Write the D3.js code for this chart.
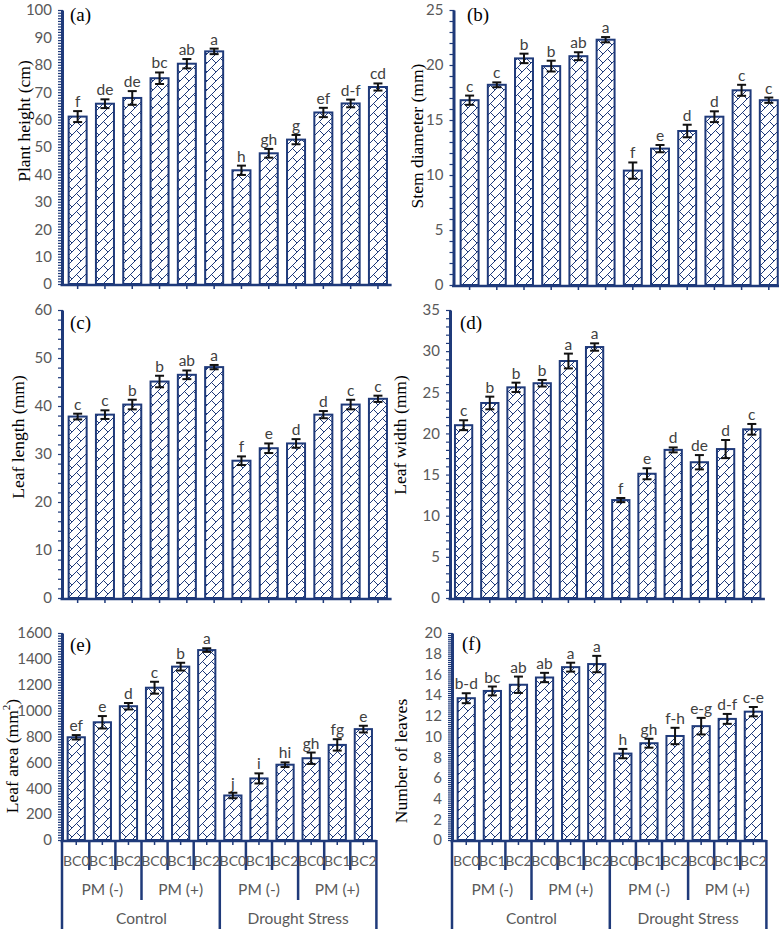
<!DOCTYPE html>
<html lang="en">
<head>
<meta charset="UTF-8">
<title>Growth traits</title>
<script src="https://d3js.org/d3.v7.min.js"></script>
<style>
  body { margin: 0; background: #fff; }
  svg { display: block; }
</style>
</head>
<body>
<svg id="chart" width="779" height="929"></svg>
<script>
// ---- data ----
const categories = ["BC0", "BC1", "BC2", "BC0", "BC1", "BC2", "BC0", "BC1", "BC2", "BC0", "BC1", "BC2"];
const pmGroups = ["PM (-)", "PM (+)", "PM (-)", "PM (+)"];
const mainGroups = ["Control", "Drought Stress"];

const plantHeight = [61.1, 65.8, 67.9, 75.1, 80.4, 84.9, 41.5, 47.7, 52.7, 62.6, 65.9, 71.9];
const plantHeightErr = [2.0, 1.6, 2.5, 2.1, 1.7, 1.0, 1.7, 1.6, 1.7, 1.7, 1.4, 1.3];
const plantHeightLetters = ["f", "de", "de", "bc", "ab", "a", "h", "gh", "g", "ef", "d-f", "cd"];

const stemDiameter = [16.8, 18.2, 20.6, 19.9, 20.8, 22.3, 10.4, 12.4, 14.0, 15.3, 17.7, 16.8];
const stemDiameterErr = [0.42, 0.22, 0.43, 0.49, 0.36, 0.24, 0.74, 0.33, 0.57, 0.49, 0.5, 0.24];
const stemDiameterLetters = ["c", "c", "b", "b", "ab", "a", "f", "e", "d", "d", "c", "c"];

const leafLength = [37.8, 38.2, 40.3, 45.1, 46.5, 48.1, 28.6, 31.2, 32.2, 38.2, 40.3, 41.5];
const leafLengthErr = [0.6, 0.9, 1.0, 1.2, 0.9, 0.45, 0.9, 1.0, 0.9, 0.75, 1.0, 0.65];
const leafLengthLetters = ["c", "c", "b", "b", "ab", "a", "f", "e", "d", "d", "c", "c"];

const leafWidth = [21.0, 23.7, 25.6, 26.1, 28.8, 30.5, 11.9, 15.1, 18.0, 16.5, 18.1, 20.5];
const leafWidthErr = [0.6, 0.77, 0.57, 0.4, 0.9, 0.45, 0.25, 0.67, 0.3, 0.87, 1.1, 0.65];
const leafWidthLetters = ["c", "b", "b", "b", "a", "a", "f", "e", "d", "de", "d", "c"];

const leafArea = [794, 910, 1034, 1177, 1340, 1468, 344, 476, 582, 632, 735, 857];
const leafAreaErr = [17, 48, 25, 46, 30, 14, 21, 39, 18, 44, 44, 26];
const leafAreaLetters = ["ef", "e", "d", "c", "b", "a", "j", "i", "hi", "gh", "fg", "e"];

const leafNumber = [13.7, 14.4, 15.0, 15.7, 16.7, 17.0, 8.35, 9.35, 10.05, 11.0, 11.7, 12.4];
const leafNumberErr = [0.48, 0.43, 0.79, 0.45, 0.43, 0.79, 0.45, 0.43, 0.79, 0.8, 0.48, 0.45];
const leafNumberLetters = ["b-d", "bc", "ab", "ab", "a", "a", "h", "gh", "f-h", "e-g", "d-f", "c-e"];

// ---- layout ----
const navy = "#1f3a7a";
const tickGray = "#595959";
const letterGray = "#404040";
const sans = "Lato, 'Open Sans', sans-serif";
const serif = "'Liberation Serif', 'DejaVu Serif', serif";

const panels = [
  { tag: "(a)", title: "Plant height (cm)", values: plantHeight, errs: plantHeightErr, letters: plantHeightLetters,
    x0: 64, band: 27.3, yTop: 10, yBot: 284, max: 100, step: 10, minor: 1,
    axisX: 62, labelX: 70, labelY: 21, titleX: 24, titleY: 121, tiers: false },
  { tag: "(b)", title: "Stem diameter (mm)", values: stemDiameter, errs: stemDiameterErr, letters: stemDiameterLetters,
    x0: 456, band: 27.2, yTop: 10, yBot: 285, max: 25, step: 5, minor: 1,
    axisX: 453.5, labelX: 467, labelY: 21, titleX: 417, titleY: 136, tiers: false },
  { tag: "(c)", title: "Leaf length (mm)", values: leafLength, errs: leafLengthErr, letters: leafLengthLetters,
    x0: 64, band: 27.3, yTop: 310, yBot: 598, max: 60, step: 10, minor: 2,
    axisX: 62, labelX: 70, labelY: 329, titleX: 18, titleY: 437, tiers: false },
  { tag: "(d)", title: "Leaf width (mm)", values: leafWidth, errs: leafWidthErr, letters: leafWidthLetters,
    x0: 450.5, band: 26.2, yTop: 310, yBot: 598, max: 35, step: 5, minor: 1,
    axisX: 450, labelX: 460, labelY: 329, titleX: 400, titleY: 435, tiers: false },
  { tag: "(e)", title: "Leaf area (mm", sup: "2", values: leafArea, errs: leafAreaErr, letters: leafAreaLetters,
    x0: 63.2, band: 26.1, yTop: 633, yBot: 840, max: 1600, step: 200, minor: 20,
    axisX: 62, labelX: 70, labelY: 651, titleX: 12, titleY: 756, tiers: true },
  { tag: "(f)", title: "Number of leaves", values: leafNumber, errs: leafNumberErr, letters: leafNumberLetters,
    x0: 453.2, band: 26.1, yTop: 633, yBot: 840, max: 20, step: 2, minor: 0.2,
    axisX: 452, labelX: 462, labelY: 650, titleX: 401, titleY: 761, tiers: true }
];

const svg = d3.select("#chart");

// diagonal brick hatch
const defs = svg.append("defs");
const pat = defs.append("pattern")
  .attr("id", "brick")
  .attr("patternUnits", "userSpaceOnUse")
  .attr("width", 9).attr("height", 9);
pat.append("rect").attr("width", 9).attr("height", 9).attr("fill", "#fff");
pat.append("path")
  .attr("d", "M-1,10 L10,-1 M4.5,4.5 L9,9 M0,0 L-1,-1")
  .attr("stroke", navy).attr("stroke-width", 1).attr("fill", "none");

panels.forEach(p => {
  const n = categories.length;
  const x = d3.scaleBand()
    .domain(d3.range(n))
    .range([p.x0, p.x0 + n * p.band])
    .paddingInner(0.34)
    .paddingOuter(0.17);
  const y = d3.scaleLinear().domain([0, p.max]).range([p.yBot, p.yTop]);
  const g = svg.append("g");

  // bars
  g.selectAll("rect.bar")
    .data(p.values)
    .join("rect")
    .attr("class", "bar")
    .attr("x", (d, i) => x(i))
    .attr("y", d => y(d))
    .attr("width", x.bandwidth())
    .attr("height", d => p.yBot - y(d))
    .attr("fill", "url(#brick)")
    .attr("stroke", navy)
    .attr("stroke-width", 2);

  // error bars
  const cx = i => x(i) + x.bandwidth() / 2;
  const eb = g.selectAll("g.err")
    .data(p.values.map((v, i) => ({ v, e: p.errs[i], i })))
    .join("g").attr("class", "err")
    .attr("stroke", "#111").attr("stroke-width", 2);
  eb.append("line")
    .attr("x1", d => cx(d.i)).attr("x2", d => cx(d.i))
    .attr("y1", d => y(d.v - d.e)).attr("y2", d => y(d.v + d.e));
  eb.append("line")
    .attr("x1", d => cx(d.i) - 4.5).attr("x2", d => cx(d.i) + 4.5)
    .attr("y1", d => y(d.v + d.e)).attr("y2", d => y(d.v + d.e));
  eb.append("line")
    .attr("x1", d => cx(d.i) - 4.5).attr("x2", d => cx(d.i) + 4.5)
    .attr("y1", d => y(d.v - d.e)).attr("y2", d => y(d.v - d.e));

  // significance letters
  g.selectAll("text.letter")
    .data(p.letters)
    .join("text")
    .attr("class", "letter")
    .attr("x", (d, i) => cx(i))
    .attr("y", (d, i) => y(p.values[i] + p.errs[i]) - 4)
    .attr("text-anchor", "middle")
    .attr("font-family", sans)
    .attr("font-size", 15.5)
    .attr("fill", letterGray)
    .text(d => d);

  // y axis: minor ticks
  const minorVals = d3.range(0, p.max + p.minor / 2, p.minor);
  const minorAxis = d3.axisLeft(y).tickValues(minorVals).tickSize(4).tickFormat("");
  const ma = g.append("g").attr("transform", `translate(${p.axisX},0)`).call(minorAxis);
  ma.select(".domain").remove();
  ma.selectAll(".tick line").attr("stroke", navy).attr("stroke-width", 1.2).attr("x2", -4).attr("x1", 1);

  // y axis: main
  const yAxis = d3.axisLeft(y)
    .tickValues(d3.range(0, p.max + p.step / 2, p.step))
    .tickFormat(d3.format("d"))
    .tickSize(0).tickPadding(10);
  const ya = g.append("g").attr("transform", `translate(${p.axisX},0)`).call(yAxis);
  ya.select(".domain").attr("stroke", navy).attr("stroke-width", 3);
  ya.selectAll(".tick text")
    .attr("font-family", sans).attr("font-size", 15).attr("fill", tickGray);

  // x axis line with small ticks at centers
  const xEnd = p.x0 + n * p.band;
  g.append("line")
    .attr("x1", p.axisX - 1.5).attr("x2", xEnd)
    .attr("y1", p.yBot + 1).attr("y2", p.yBot + 1)
    .attr("stroke", navy).attr("stroke-width", 2.5);
  g.selectAll("line.ctick")
    .data(d3.range(n))
    .join("line").attr("class", "ctick")
    .attr("x1", i => cx(i)).attr("x2", i => cx(i))
    .attr("y1", p.yBot + 1).attr("y2", p.yBot + 5)
    .attr("stroke", navy).attr("stroke-width", 1.5);

  // panel tag
  g.append("text")
    .attr("x", p.labelX).attr("y", p.labelY)
    .attr("font-family", serif).attr("font-size", 19).attr("fill", "#000")
    .text(p.tag);

  // y title
  const t = g.append("text")
    .attr("transform", `translate(${p.titleX},${p.titleY}) rotate(-90)`)
    .attr("text-anchor", "middle")
    .attr("dominant-baseline", "central")
    .attr("font-family", serif).attr("font-size", 17.5).attr("fill", "#000")
    .text(p.title);
  if (p.sup) {
    t.append("tspan").attr("dy", -6).attr("font-size", 11).text(p.sup);
    t.append("tspan").attr("dy", 6).text(")");
  }

  // multi-level category axis (bottom panels)
  if (p.tiers) {
    const edge = i => p.x0 + i * p.band;
    const bottomY = i => (i % 6 === 0) ? 929 : (i % 3 === 0 ? 900 : 870);
    g.selectAll("line.sep")
      .data(d3.range(n + 1))
      .join("line").attr("class", "sep")
      .attr("x1", i => i === 0 ? p.axisX : edge(i))
      .attr("x2", i => i === 0 ? p.axisX : edge(i))
      .attr("y1", p.yBot).attr("y2", i => bottomY(i))
      .attr("stroke", navy).attr("stroke-width", 2.5);

    g.selectAll("text.cat")
      .data(categories)
      .join("text").attr("class", "cat")
      .attr("x", (d, i) => edge(i) + p.band / 2)
      .attr("y", 866)
      .attr("text-anchor", "middle")
      .attr("font-family", sans).attr("font-size", 14).attr("fill", tickGray)
      .text(d => d);

    g.selectAll("text.pm")
      .data(pmGroups)
      .join("text").attr("class", "pm")
      .attr("x", (d, i) => edge(i * 3) + p.band * 1.5)
      .attr("y", 895)
      .attr("text-anchor", "middle")
      .attr("font-family", sans).attr("font-size", 15.5).attr("fill", tickGray)
      .text(d => d);

    g.selectAll("text.main")
      .data(mainGroups)
      .join("text").attr("class", "main")
      .attr("x", (d, i) => edge(i * 6) + p.band * 3)
      .attr("y", 924)
      .attr("text-anchor", "middle")
      .attr("font-family", sans).attr("font-size", 15.5).attr("fill", tickGray)
      .text(d => d);
  }
});
</script>
</body>
</html>
